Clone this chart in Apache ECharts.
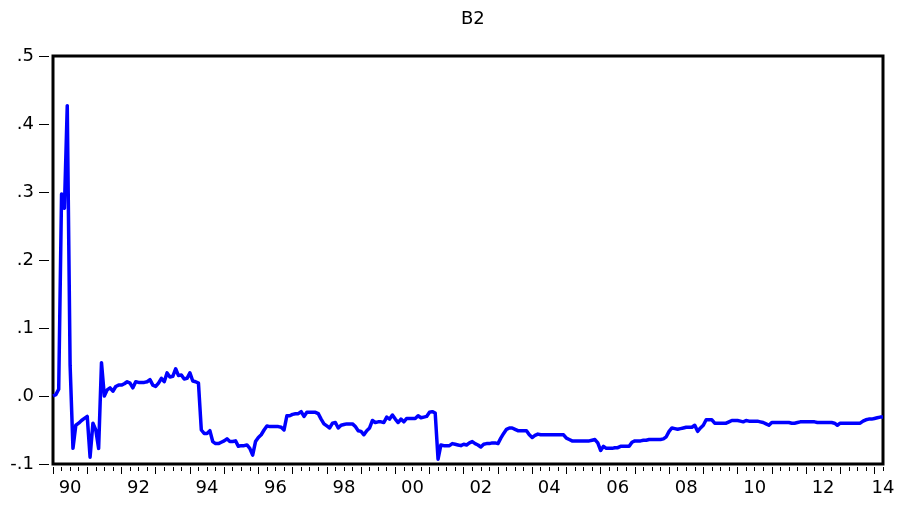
<!DOCTYPE html>
<html>
<head>
<meta charset="utf-8">
<script src="https://cdn.jsdelivr.net/npm/echarts@6/dist/echarts.min.js"></script>
<style>
  html, body { margin: 0; padding: 0; background: #fff; }
  #chart { width: 903px; height: 505px; }
</style>
</head>
<body>
<div id="chart"></div>
<script>
// Series B2, monthly observations starting 1990M01
const seriesName = 'B2';
const startYear = 1990;
const startMonth = 1;

const b2Values = [
  // 1990
  0.000, 0.002, 0.010, 0.297, 0.276, 0.427, 0.045, -0.077, -0.043, -0.040, -0.036, -0.033,
  // 1991
  -0.030, -0.090, -0.040, -0.050, -0.077, 0.049, 0.000, 0.009, 0.012, 0.007, 0.014, 0.016,
  // 1992
  0.016, 0.018, 0.021, 0.019, 0.012, 0.021, 0.020, 0.020, 0.020, 0.021, 0.024, 0.016,
  // 1993
  0.014, 0.019, 0.026, 0.021, 0.034, 0.028, 0.029, 0.040, 0.030, 0.031, 0.025, 0.026,
  // 1994
  0.034, 0.022, 0.021, 0.019, -0.050, -0.055, -0.055, -0.051, -0.067, -0.070, -0.070, -0.068,
  // 1995
  -0.066, -0.063, -0.067, -0.067, -0.066, -0.074, -0.073, -0.073, -0.072, -0.077, -0.087, -0.067,
  // 1996
  -0.061, -0.057, -0.050, -0.044, -0.045, -0.045, -0.045, -0.045, -0.046, -0.050, -0.029, -0.029,
  // 1997
  -0.027, -0.026, -0.026, -0.023, -0.030, -0.024, -0.024, -0.024, -0.024, -0.026, -0.034, -0.041,
  // 1998
  -0.044, -0.047, -0.040, -0.039, -0.047, -0.043, -0.042, -0.041, -0.041, -0.041, -0.045, -0.051,
  // 1999
  -0.052, -0.057, -0.051, -0.047, -0.036, -0.039, -0.038, -0.038, -0.039, -0.031, -0.034, -0.028,
  // 2000
  -0.034, -0.039, -0.034, -0.038, -0.033, -0.033, -0.033, -0.033, -0.029, -0.032, -0.031, -0.030,
  // 2001
  -0.024, -0.023, -0.025, -0.093, -0.072, -0.073, -0.073, -0.073, -0.070, -0.071, -0.072, -0.073,
  // 2002
  -0.071, -0.072, -0.069, -0.067, -0.070, -0.072, -0.075, -0.071, -0.070, -0.070, -0.069, -0.069,
  // 2003
  -0.070, -0.062, -0.055, -0.049, -0.047, -0.047, -0.049, -0.051, -0.051, -0.051, -0.051, -0.057,
  // 2004
  -0.061, -0.058, -0.056, -0.057, -0.057, -0.057, -0.057, -0.057, -0.057, -0.057, -0.057, -0.057,
  // 2005
  -0.062, -0.064, -0.066, -0.066, -0.066, -0.066, -0.066, -0.066, -0.066, -0.065, -0.064, -0.069,
  // 2006
  -0.080, -0.074, -0.077, -0.077, -0.077, -0.076, -0.076, -0.074, -0.074, -0.074, -0.074, -0.068,
  // 2007
  -0.066, -0.066, -0.066, -0.065, -0.065, -0.064, -0.064, -0.064, -0.064, -0.064, -0.063, -0.060,
  // 2008
  -0.052, -0.047, -0.048, -0.049, -0.048, -0.047, -0.046, -0.046, -0.046, -0.043, -0.052, -0.047,
  // 2009
  -0.043, -0.035, -0.035, -0.035, -0.040, -0.040, -0.040, -0.040, -0.040, -0.038, -0.036, -0.036,
  // 2010
  -0.036, -0.037, -0.038, -0.036, -0.037, -0.037, -0.037, -0.037, -0.038, -0.039, -0.041, -0.043,
  // 2011
  -0.039, -0.039, -0.039, -0.039, -0.039, -0.039, -0.039, -0.040, -0.040, -0.039, -0.038, -0.038,
  // 2012
  -0.038, -0.038, -0.038, -0.038, -0.039, -0.039, -0.039, -0.039, -0.039, -0.039, -0.040, -0.043,
  // 2013
  -0.040, -0.040, -0.040, -0.040, -0.040, -0.040, -0.040, -0.040, -0.037, -0.035, -0.034, -0.034,
  // 2014
  -0.033, -0.032, -0.031, -0.031
];

// Value axis range and step
const yMin = -0.1;
const yMax = 0.5;
const yStep = 0.1;

// Month categories (YYYY-MM) for every observation
const months = b2Values.map((_, i) => {
  const m = startMonth - 1 + i;
  const y = startYear + Math.floor(m / 12);
  const mm = (m % 12) + 1;
  return y + '-' + (mm < 10 ? '0' : '') + mm;
});

const font = '"DejaVu Sans", "Liberation Sans", Arial, sans-serif';

// ".5", ".0", "-.1" style labels
function fmtY(v) {
  const s = (Math.round(v * 10) / 10).toFixed(1);
  return s.replace(/^(-?)0\./, '$1.');
}

const gridLeft = 53, gridRight = 20;
const plotCenter = gridLeft + (903 - gridLeft - gridRight) / 2;

const chart = echarts.init(document.getElementById('chart'), null, { renderer: 'canvas' });
chart.setOption({
  animation: false,
  backgroundColor: '#fff',
  title: {
    text: seriesName,
    left: plotCenter - 12,
    top: 5,
    textStyle: { fontFamily: font, fontSize: 18, fontWeight: 'normal', color: '#000' }
  },
  grid: {
    left: gridLeft, right: gridRight, top: 56, bottom: 41,
    show: true, borderColor: '#000', borderWidth: 3, backgroundColor: '#fff'
  },
  xAxis: [
    {
      // yearly ticks and two-year labels centred under the year
      type: 'category',
      data: months,
      boundaryGap: false,
      position: 'bottom',
      offset: 3,
      axisLine: { show: false, onZero: false },
      axisTick: {
        show: true,
        interval: (i) => i % 12 === 0,
        length: 7,
        lineStyle: { color: '#000', width: 1 }
      },
      axisLabel: {
        interval: (i) => i % 24 === 6 || i === months.length - 1,
        formatter: (v) => v.slice(2, 4),
        margin: 12,
        fontFamily: font,
        fontSize: 18,
        color: '#000'
      },
      splitLine: { show: false }
    },
    {
      // quarterly ticks
      type: 'category',
      data: months,
      boundaryGap: false,
      position: 'bottom',
      offset: 3,
      axisLine: { show: false, onZero: false },
      axisTick: {
        show: true,
        interval: (i) => i % 3 === 0,
        length: 4,
        lineStyle: { color: '#000', width: 1 }
      },
      axisLabel: { show: false },
      splitLine: { show: false }
    }
  ],
  yAxis: {
    type: 'value',
    min: yMin,
    max: yMax,
    interval: yStep,
    offset: 4,
    axisLine: { show: false, onZero: false },
    axisTick: { show: true, length: 10, lineStyle: { color: '#000', width: 1 } },
    axisLabel: {
      formatter: fmtY,
      margin: 15,
      fontFamily: font,
      fontSize: 18,
      color: '#000'
    },
    splitLine: { show: false }
  },
  series: [
    {
      name: seriesName,
      type: 'line',
      xAxisIndex: 0,
      data: b2Values,
      showSymbol: false,
      symbol: 'none',
      lineStyle: { color: '#0000ff', width: 3.5, join: 'round' }
    }
  ]
});
</script>
</body>
</html>
